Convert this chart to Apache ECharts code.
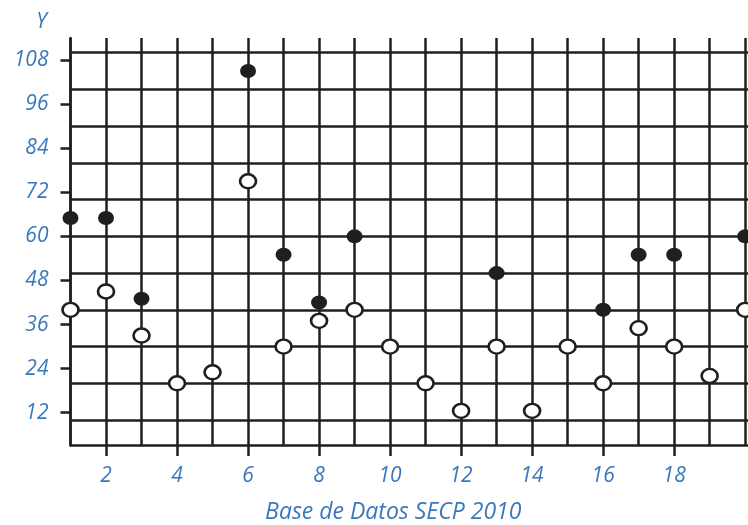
<!DOCTYPE html>
<html>
<head>
<meta charset="utf-8">
<script src="https://cdn.jsdelivr.net/npm/echarts@6/dist/echarts.min.js"></script>
<style>
html,body{margin:0;padding:0;background:#fff;}
#chart{width:748px;height:525px;}
</style>
</head>
<body>
<div id="chart"></div>
<script>
// Data
var xPositions = [1,2,3,4,5,6,7,8,9,10,11,12,13,14,15,16,17,18,19,20];
var xTickLabels = [2,4,6,8,10,12,14,16,18];
var yTickLabels = [12,24,36,48,60,72,84,96,108];
var yGridValues = [10,20,30,40,50,60,70,80,90,100,110];
var filledX = [1,2,3,6,7,8,9,13,16,17,18,20];
var filledY = [65,65,43,105,55,42,60,50,40,55,55,60];
var openY = [40,45,33,20,23,75,30,37,40,30,20,12.5,30,12.5,30,20,35,30,22,40];
var xName = 'Base de Datos SECP 2010';
var yName = 'Y';

var blue = '#3a78bd';
var ink = '#1f1f1f';
var font = 'Open Sans';
var lab = {color: blue, fontStyle: 'italic', fontFamily: font, fontSize: 21};

var filledData = filledX.map(function (x, i) { return [x, filledY[i]]; });
var openData = xPositions.map(function (x, i) { return [x, openY[i]]; });

var chart = echarts.init(document.getElementById('chart'), null, {renderer: 'canvas'});
chart.setOption({
  animation: false,
  backgroundColor: '#fff',
  grid: {left: 70.5, right: 0, top: 38, bottom: 80, containLabel: false, outerBoundsMode: 'none'},
  xAxis: [{
    type: 'value', min: 1, max: 20.08, position: 'bottom',
    name: xName, nameLocation: 'middle', nameGap: 56,
    nameTextStyle: {color: blue, fontStyle: 'italic', fontFamily: font, fontSize: 23, padding: [0, 32, 0, 0]},
    axisLine: {show: true, onZero: false, lineStyle: {color: ink, width: 2.5}},
    axisTick: {show: true, inside: false, length: 11, customValues: xTickLabels, lineStyle: {color: ink, width: 2.5}},
    axisLabel: Object.assign({customValues: xTickLabels, margin: 21}, lab),
    splitLine: {show: false}
  }, {
    type: 'value', min: 1, max: 20.08, position: 'top',
    axisLine: {show: false},
    axisTick: {show: false, customValues: xPositions},
    axisLabel: {show: false},
    splitLine: {show: true, lineStyle: {color: ink, width: 2.5}}
  }],
  yAxis: [{
    type: 'value', min: 3.2, max: 114, position: 'left',
    name: yName, nameLocation: 'end', nameGap: 5,
    nameTextStyle: {color: blue, fontStyle: 'italic', fontFamily: font, fontSize: 21, align: 'center', padding: [0, 58, 0, 0]},
    axisLine: {show: true, onZero: false, lineStyle: {color: ink, width: 2.5}},
    axisTick: {show: true, inside: false, length: 10, customValues: yTickLabels, lineStyle: {color: ink, width: 2.5}},
    axisLabel: Object.assign({customValues: yTickLabels, margin: 22}, lab),
    splitLine: {show: false}
  }, {
    type: 'value', min: 3.2, max: 114, position: 'right',
    axisLine: {show: false},
    axisTick: {show: false, customValues: yGridValues},
    axisLabel: {show: false},
    splitLine: {show: true, lineStyle: {color: ink, width: 2.5}}
  }],
  series: [{
    name: 'open', type: 'scatter', xAxisIndex: 0, yAxisIndex: 0,
    symbol: 'circle', symbolSize: [16, 14], clip: false,
    itemStyle: {color: '#fff', borderColor: ink, borderWidth: 2.5, opacity: 1},
    data: openData, z: 5
  }, {
    name: 'filled', type: 'scatter', xAxisIndex: 0, yAxisIndex: 0,
    symbol: 'circle', symbolSize: [16, 14], clip: false,
    itemStyle: {color: ink, borderColor: ink, borderWidth: 0, opacity: 1},
    data: filledData, z: 6
  }]
});
</script>
</body>
</html>
